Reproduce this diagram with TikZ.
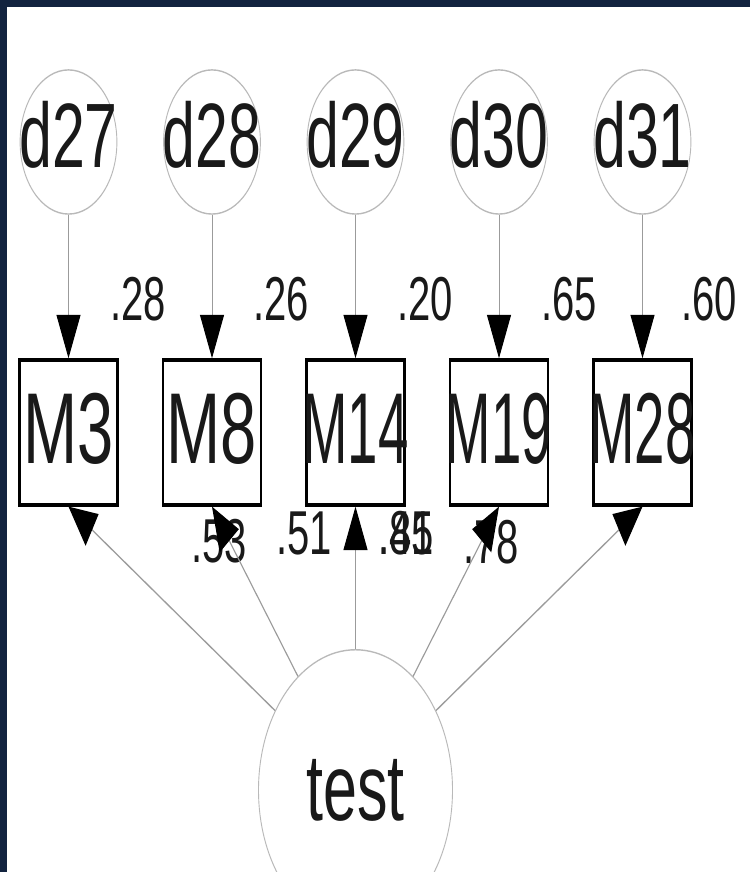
\documentclass[tikz,border=0pt]{standalone}
\usepackage{fontspec}
\usepackage{graphicx}
\setmainfont{Liberation Sans}
\usetikzlibrary{arrows.meta,shapes.geometric}
\definecolor{navy}{RGB}{18,35,63}
\definecolor{ink}{RGB}{25,25,25}
\definecolor{lightline}{RGB}{185,185,185}
\definecolor{edgegray}{RGB}{155,155,155}
\newcommand{\narrowtxt}[1]{\scalebox{0.84}[1]{#1}}
\begin{document}
\begin{tikzpicture}[x=1pt,y=1pt,
  errnode/.style={ellipse, draw=lightline, line width=0.9pt, minimum width=96pt, minimum height=93pt, inner xsep=-15pt, inner ysep=0pt, text=ink, font=\fontsize{59pt}{59pt}\selectfont, text height=42pt, text depth=9pt},
  obsbox/.style={rectangle, draw=black, line width=2.2pt, minimum width=98pt, minimum height=93.5pt, inner xsep=-5pt, inner ysep=0pt, text=ink, font=\fontsize{65pt}{65pt}\selectfont, text height=46.5pt, text depth=7pt},
  latent/.style={ellipse, draw=lightline, line width=0.9pt, minimum width=194pt, minimum height=181pt, inner sep=0pt, text=ink, font=\fontsize{61pt}{61pt}\selectfont},
  coef/.style={inner sep=0pt, text=ink, font=\fontsize{40pt}{40pt}\selectfont},
  patharrow/.style={draw=edgegray, line width=1pt, -{Triangle[length=28pt,width=24pt,color=black]}},
]
\useasboundingbox (0,0) rectangle (750,-872);
\fill[navy] (0,0) rectangle (750,-872);
\fill[white] (6.5,-7) rectangle (750,-872);
\begin{scope}[transform canvas={yscale=1.55}]
  % error terms
  \node[errnode] (d27) at (68.5,-91.6) {d27};
  \node[errnode] (d28) at (212,-91.6) {d28};
  \node[errnode] (d29) at (355.5,-91.6) {d29};
  \node[errnode] (d30) at (499,-91.6) {d30};
  \node[errnode] (d31) at (642.5,-91.6) {d31};
  % observed variables
  \node[obsbox] (M3) at (68.5,-279) {M3};
  \node[obsbox] (M8) at (212,-279) {M8};
  \node[obsbox] (M14) at (355.5,-279) {\narrowtxt{M14}};
  \node[obsbox] (M19) at (499,-279) {\narrowtxt{M19}};
  \node[obsbox] (M28) at (642.5,-279) {\narrowtxt{M28}};
  % latent factor
  \node[latent] (test) at (355.5,-509.7) {test};
  % squared multiple correlations
  \node[coef] (r3) at (138,-192.9) {.28};
  \node[coef] (r8) at (281,-192.9) {.26};
  \node[coef] (r14) at (425,-192.9) {.20};
  \node[coef] (r19) at (569,-192.9) {.65};
  \node[coef] (r28) at (709,-192.9) {.60};
  % loadings
  \node[coef] (l3) at (219,-349) {.53};
  \node[coef] (l8) at (304,-343.9) {.51};
  \node[coef] (l14) at (406,-343.9) {.45};
  \node[coef] (l19) at (406,-343.9) {.81};
  \node[coef] (l28) at (491,-349.7) {.78};
  % arrows from error terms
  \draw[patharrow] (d27) -- (M3);
  \draw[patharrow] (d28) -- (M8);
  \draw[patharrow] (d29) -- (M14);
  \draw[patharrow] (d30) -- (M19);
  \draw[patharrow] (d31) -- (M28);
  % arrows from factor
  \draw[patharrow] (test) -- (M3.south);
  \draw[patharrow] (test) -- (M8.south);
  \draw[patharrow] (test) -- (M14.south);
  \draw[patharrow] (test) -- (M19.south);
  \draw[patharrow] (test) -- (M28.south);
\end{scope}
\end{tikzpicture}
\end{document}
